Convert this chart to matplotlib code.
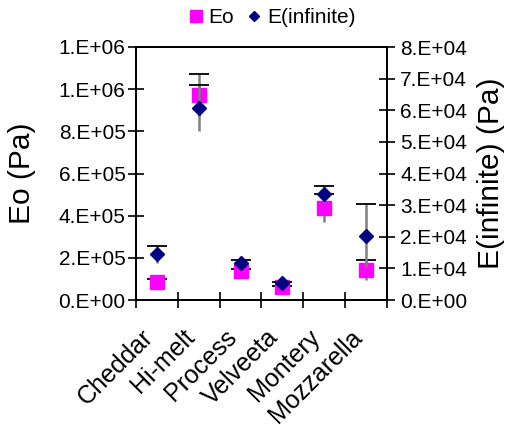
import matplotlib
matplotlib.use("Agg")
import matplotlib.pyplot as plt
from matplotlib.lines import Line2D
from matplotlib.ticker import FuncFormatter, FixedLocator, NullFormatter
from matplotlib.transforms import blended_transform_factory, ScaledTranslation

plt.rcParams['font.family'] = ['Liberation Sans', 'DejaVu Sans']

# dades llegides de la grafica
cheeses = ["Cheddar", "Hi-melt", "Process", "Velveeta", "Montery", "Mozzarella"]
eo      = [8.7e4, 9.7e5, 1.36e5, 6.3e4, 4.38e5, 1.42e5]
eo_err  = [1.1e4, 1.04e5, 1.0e4, 3.0e3, 6.6e4, 4.7e4]
einf     = [1.45e4, 6.07e4, 1.18e4, 5.3e3, 3.36e4, 2.03e4]
einf_err = [2.7e3, 7.4e3, 8.5e2, 4.0e2, 2.5e3, 9.9e3]

pink = '#ff00ff'
navy = '#000080'
x = list(range(len(cheeses)))

fig = plt.figure(figsize=(5.1, 4.25), dpi=100)
ax1 = fig.add_axes([136/510, 1 - 300/425, 251/510, 253/425])
ax2 = ax1.twinx()


def draw_series(ax, vals, errs, marker, color, ms):
    # barra gris, nomes amb el tap de dalt (negre)
    eb = ax.errorbar(x, vals, yerr=errs, fmt='none', ecolor='#7f7f7f',
                     elinewidth=1.8, capsize=7, capthick=1.3, zorder=2)
    caps = eb[1]
    caps[0].set_visible(False)
    caps[1].set_markeredgecolor('black')
    ax.plot(x, vals, linestyle='none', marker=marker, color=color,
            markeredgecolor=color, markersize=ms, zorder=3)


draw_series(ax1, eo, eo_err, 's', pink, 10)
draw_series(ax2, einf, einf_err, 'D', navy, 7.5)

sci = FuncFormatter(lambda v, pos: format(v, '#.0E'))

ax1.set_xlim(-0.5, len(cheeses) - 0.5)
ax1.set_ylim(0, 1.2e6)
ax1.set_yticks([i * 2e5 for i in range(7)])
ax1.yaxis.set_major_formatter(sci)
ax2.set_ylim(0, 8e4)
ax2.set_yticks([i * 1e4 for i in range(9)])
ax2.yaxis.set_major_formatter(sci)

# ticks de categoria a les vores, sense etiqueta
ax1.xaxis.set_major_locator(FixedLocator([i - 0.5 for i in range(len(cheeses) + 1)]))
ax1.xaxis.set_major_formatter(NullFormatter())
ax1.tick_params(axis='x', which='major', direction='inout', length=12, width=1.2)
ax1.tick_params(axis='y', direction='inout', length=11, width=1.2, labelsize=15, pad=2)
ax2.tick_params(axis='y', direction='inout', length=11, width=1.2, labelsize=15, pad=4)

# etiquetes de categoria girades, una mica desplacades a l'esquerra
lbl_tr = blended_transform_factory(ax1.transData, ax1.transAxes) + \
    ScaledTranslation(-16/100, -25/100, fig.dpi_scale_trans)
for xi, name in zip(x, cheeses):
    ax1.text(xi, 0, name, transform=lbl_tr, rotation=45, ha='right', va='top',
             rotation_mode='anchor', fontsize=18, clip_on=False)

for ax in (ax1, ax2):
    for sp in ax.spines.values():
        sp.set_linewidth(1.3)

ax1.set_ylabel('Eo (Pa)', fontsize=21.5, labelpad=16)
ax2.set_ylabel('E(infinite) (Pa)', fontsize=21.5, labelpad=7)

handles = [
    Line2D([], [], linestyle='none', marker='s', color=pink, markersize=8.5),
    Line2D([], [], linestyle='none', marker='D', color=navy, markersize=5),
]
fig.legend(handles, ['Eo', 'E(infinite)'], loc='upper center',
           bbox_to_anchor=(0.53, 1.025), ncol=2, frameon=False, fontsize=15,
           handletextpad=0.1, columnspacing=0.5, handlelength=1.0)

fig.savefig('out.png', dpi=100)
